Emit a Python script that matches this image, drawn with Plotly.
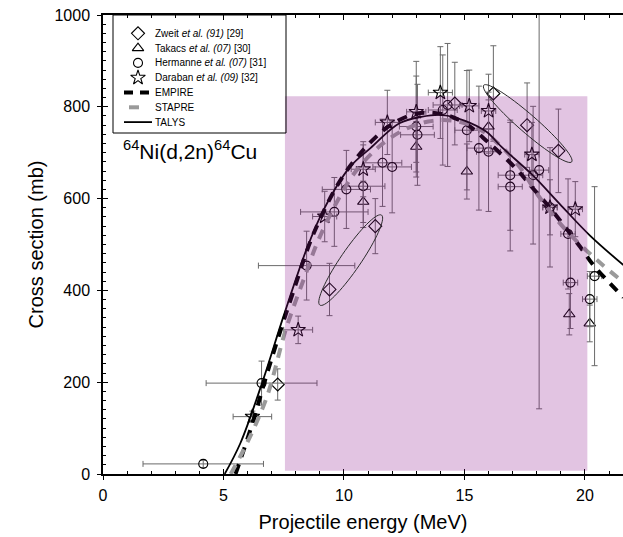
import math
import plotly.graph_objects as go

# ---------------- data ----------------
ZWEIT_X = [7.25, 9.4, 11.3, 14.6, 16.2, 17.6, 18.9]
ZWEIT_Y = [195, 402, 540, 807, 829, 760, 704]
ZWEIT_YERR = [34, 57, 60, 90, 104, 92, 91]

TAKACS_X = [10.8, 13.0, 15.1, 16.0, 19.35, 20.2]
TAKACS_Y = [593, 713, 659, 757, 348, 328]
TAKACS_YERR = [45, 55, 60, 58, 45, 40]

HERM_X = [4.16, 6.58, 8.45, 9.6, 10.1, 10.8, 11.6, 12.0, 13.0, 13.05, 14.1, 14.3,
          15.1, 15.6, 16.0, 16.9, 16.9, 17.85, 18.1, 18.55, 19.3, 19.4, 20.2, 20.4]
HERM_Y = [22, 198, 454, 571, 620, 627, 678, 669, 757, 739, 793, 804,
          749, 710, 702, 651, 626, 651, 662, 581, 523, 417, 381, 431]
HERM_YERR = [8, 48, 75, 75, 85, 90, 95, 100, 110, 110, 120, 134,
             130, 135, 130, 120, 140, 150, 520, 130, 120, 100, 60, 195]
HERM_XERR = [2.5, 2.3, 2.0, 1.4, 1.0, 0.9, 0.8, 0.8, 0.7, 0.7, 0.6, 0.6,
             0.5, 0.5, 0.5, 0.5, 0.5, 0.4, 0.4, 0.3, 0.3, 0.3, 0.3, 0.3]

DARA_X = [6.2, 8.1, 9.2, 10.8, 11.8, 13.0, 14.0, 15.2, 16.0, 17.8, 18.55, 19.6]
DARA_Y = [125, 314, 561, 664, 766, 789, 831, 802, 791, 696, 581, 577]
DARA_YERR = [12, 30, 55, 60, 70, 110, 100, 78, 80, 70, 60, 60]
DARA_XERR = [0.8, 0.6, 0.5, 0.5, 0.5, 0.4, 0.5, 0.4, 0.3, 0.3, 0.3, 0.3]

EMPIRE_X = [5.5, 6.2, 6.7, 7.2, 7.85, 8.75, 9.95, 11.2, 12.05, 13.0, 14.0, 15.0,
            16.0, 17.2, 17.85, 18.55, 19.8, 20.4, 21.6]
EMPIRE_Y = [0, 110, 200, 285, 390, 525, 648, 728, 764, 785, 785, 765,
            722, 662, 622, 580, 495, 452, 385]

STAPRE_X = [5.3, 6.0, 6.8, 7.6, 8.4, 8.9, 9.75, 10.5, 11.5, 12.5, 13.5, 14.5,
            15.5, 16.5, 17.3, 18.1, 19.2, 20.5, 21.6]
STAPRE_Y = [0, 70, 168, 317, 434, 505, 597, 660, 715, 750, 768, 770,
            755, 715, 668, 604, 532, 466, 418]

TALYS_X = [5.05, 5.7, 6.6, 7.5, 8.45, 9.15, 10.25, 11.1, 12.3, 13.2, 14.1, 15.0,
           15.9, 16.55, 17.85, 18.96, 20.2, 21.6]
TALYS_Y = [0, 67, 198, 345, 490, 575, 669, 710, 764, 778, 782, 770,
           746, 712, 650, 588, 520, 455]

# shaded energy window (x0, x1, y0, y1)
WINDOW = [7.55, 20.1, 7, 823]

# ellipses: (end point A, end point B, half width in px)
ELLIPSES = [((9.0, 368), (11.56, 564), 10), ((15.8, 847), (19.45, 680), 9)]

REACTION = "<sup>64</sup>Ni(d,2n)<sup>64</sup>Cu"
LEGEND_NAMES = ["Zweit <i>et al. (91)</i> [29]", "Takacs <i>et al. (07)</i> [30]",
                "Hermanne <i>et al. (07)</i> [31]", "Daraban <i>et al. (09)</i> [32]",
                "EMPIRE", "STAPRE", "TALYS"]

# ---------------- layout constants ----------------
W, H = 623, 537
ML, MR, MT, MB = 103, 0, 15, 63
XMAX = 21.58
YMAX = 1000
PW, PH = W - ML - MR, H - MT - MB
SX = PW / XMAX
SY = PH / YMAX
FONT = "Liberation Sans, Arial, sans-serif"
ERRC = "#6a6a6a"

# legend box in page pixels (left, top, right, bottom), rows, sample positions
LB = (113, 15, 286, 133)
LROW0, LPITCH = 33.3, 14.8
LSYM_X, LTXT_X = 138, 153


def px2x(px):
    return (px - ML) / SX


def py2y(py):
    return (H - MB - py) / SY


fig = go.Figure()

MARKER_STYLES = [("diamond-open", 10), ("triangle-up-open", 10), ("circle-open", 9), ("star-open", 11)]


def pts(idx, xs, ys, yerr, xerr=None):
    sym, sz = MARKER_STYLES[idx]
    fig.add_trace(go.Scatter(
        x=xs, y=ys, mode="markers", name=LEGEND_NAMES[idx], showlegend=False,
        marker=dict(symbol=sym, size=sz, color="black",
                    line=dict(color="black", width=1.1)),
        error_y=dict(type="data", array=yerr, color=ERRC, thickness=1, width=3),
        error_x=(dict(type="data", array=xerr, color=ERRC, thickness=1, width=3)
                 if xerr else None),
    ))


pts(0, ZWEIT_X, ZWEIT_Y, ZWEIT_YERR)
pts(1, TAKACS_X, TAKACS_Y, TAKACS_YERR)
pts(2, HERM_X, HERM_Y, HERM_YERR, HERM_XERR)
pts(3, DARA_X, DARA_Y, DARA_YERR, DARA_XERR)

LINE_STYLES = [dict(color="black", width=4, dash="10px,8px"),
               dict(color="#9a9a9a", width=4, dash="10px,8px"),
               dict(color="black", width=1.8)]
for i, (xs, ys) in enumerate([(EMPIRE_X, EMPIRE_Y), (STAPRE_X, STAPRE_Y), (TALYS_X, TALYS_Y)]):
    fig.add_trace(go.Scatter(x=xs, y=ys, mode="lines", name=LEGEND_NAMES[4 + i],
                             showlegend=False,
                             line=dict(shape="spline", **LINE_STYLES[i])))

# shaded window drawn on top, semi transparent
fig.add_shape(type="rect", xref="x", yref="y", x0=WINDOW[0], x1=WINDOW[1],
              y0=WINDOW[2], y1=WINDOW[3], fillcolor="rgb(140,20,140)",
              opacity=0.25, line_width=0, layer="above")


def ellipse_path(a, b, hw, n=72):
    ax, ay = a[0] * SX, -a[1] * SY
    bx, by = b[0] * SX, -b[1] * SY
    cx, cy = (ax + bx) / 2, (ay + by) / 2
    ang = math.atan2(by - ay, bx - ax)
    half = math.hypot(bx - ax, by - ay) / 2
    out = []
    for i in range(n + 1):
        t = 2 * math.pi * i / n
        px = cx + half * math.cos(t) * math.cos(ang) - hw * math.sin(t) * math.sin(ang)
        py = cy + half * math.cos(t) * math.sin(ang) + hw * math.sin(t) * math.cos(ang)
        out.append(f"{px / SX:.4f},{-py / SY:.3f}")
    return "M " + " L ".join(out) + " Z"


for a, b, hw in ELLIPSES:
    fig.add_shape(type="path", xref="x", yref="y", path=ellipse_path(a, b, hw),
                  line=dict(color="#2a2a2a", width=1), fillcolor="rgba(0,0,0,0)")

fig.add_annotation(x=0.75, y=706, xref="x", yref="y", text=REACTION, showarrow=False,
                   xanchor="left", yanchor="middle",
                   font=dict(size=21, color="black", family=FONT))

# ---------------- legend (hand-built so its compact row pitch can be matched) ----------------
rows = [LROW0 + i * LPITCH for i in range(len(LEGEND_NAMES))]
for i in range(4):
    sym, sz = MARKER_STYLES[i]
    fig.add_trace(go.Scatter(x=[px2x(LSYM_X)], y=[py2y(rows[i])], mode="markers",
                             showlegend=False, hoverinfo="skip",
                             marker=dict(symbol=sym, size=sz, color="black",
                                         line=dict(color="black", width=1.1))))
LEG_SEG = [(124, 152), (129, 142), (124, 152)]
for i in range(3):
    st = dict(LINE_STYLES[i])
    if i == 0:
        st["dash"] = "9px,7px"
    fig.add_trace(go.Scatter(x=[px2x(LEG_SEG[i][0]), px2x(LEG_SEG[i][1])],
                             y=[py2y(rows[4 + i])] * 2,
                             mode="lines", showlegend=False, hoverinfo="skip", line=st))
for i, name in enumerate(LEGEND_NAMES):
    fig.add_annotation(x=(LTXT_X - ML) / PW, y=(H - MB - rows[i]) / PH,
                       xref="paper", yref="paper", text=name, showarrow=False,
                       xanchor="left", yanchor="middle",
                       font=dict(size=10, color="black", family=FONT))
fig.add_shape(type="rect", xref="paper", yref="paper",
              x0=(LB[0] - ML) / PW, x1=(LB[2] - ML) / PW,
              y0=(H - MB - LB[3]) / PH, y1=(H - MB - LB[1]) / PH,
              line=dict(color="black", width=1), fillcolor="rgba(0,0,0,0)", layer="above")

# overlay axes: outside halves of the major ticks
fig.add_trace(go.Scatter(x=[None], y=[None], xaxis="x2", yaxis="y2", showlegend=False,
                         hoverinfo="skip"))

fig.update_layout(
    width=W, height=H, margin=dict(l=ML, r=MR, t=MT, b=MB, autoexpand=False),
    paper_bgcolor="white", plot_bgcolor="white",
    font=dict(family=FONT, color="black", size=16),
    showlegend=False,
    xaxis=dict(range=[0, XMAX], showgrid=False, zeroline=False, showline=True,
               linecolor="black", linewidth=1.5, mirror="ticks", automargin=False,
               ticks="inside", ticklen=5, tickwidth=1.3, tickcolor="black",
               tick0=0, dtick=5, ticklabelstandoff=6,
               minor=dict(ticks="inside", ticklen=3, dtick=1, tickcolor="black"),
               tickfont=dict(size=16),
               title=dict(text="Projectile energy (MeV)", font=dict(size=20), standoff=12)),
    yaxis=dict(range=[0, YMAX], showgrid=False, zeroline=False, showline=True,
               linecolor="black", linewidth=1.5, automargin=False,
               ticks="inside", ticklen=5, tickwidth=1.3, tickcolor="black",
               tick0=0, dtick=200, ticklabelstandoff=8,
               minor=dict(ticks="inside", ticklen=3, dtick=20, tickcolor="black"),
               tickfont=dict(size=16),
               title=dict(text="Cross section (mb)", font=dict(size=20), standoff=5)),
    xaxis2=dict(range=[0, XMAX], overlaying="x", anchor="y", side="bottom", automargin=False,
                showgrid=False, zeroline=False, showline=False, showticklabels=False,
                ticks="outside", ticklen=5, tickwidth=1.3, tickcolor="black",
                tick0=0, dtick=5),
    yaxis2=dict(range=[0, YMAX], overlaying="y", anchor="x", side="left", automargin=False,
                showgrid=False, zeroline=False, showline=False, showticklabels=False,
                ticks="outside", ticklen=5, tickwidth=1.3, tickcolor="black",
                tick0=0, dtick=200),
)

fig.write_html("out.html", config={"displayModeBar": False},
               post_script="document.body.style.margin='0';")
